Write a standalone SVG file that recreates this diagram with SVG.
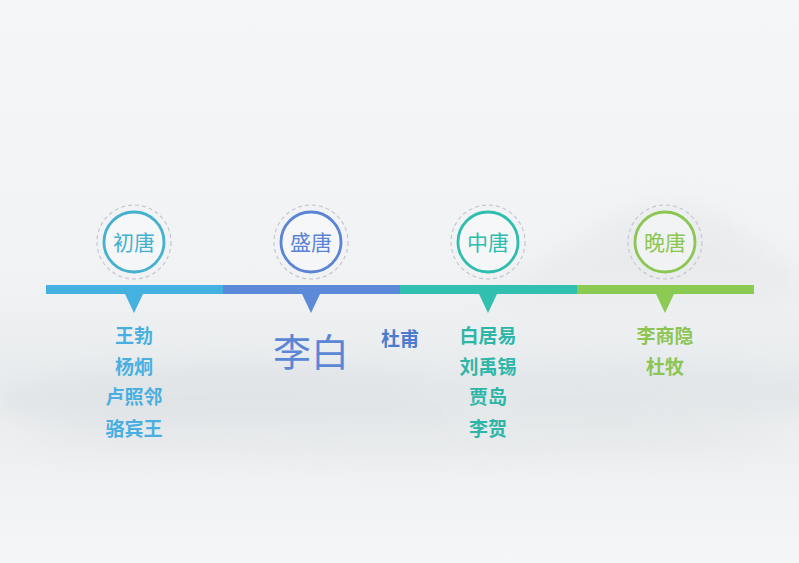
<svg xmlns="http://www.w3.org/2000/svg" width="799" height="563" viewBox="0 0 799 563">
<defs>
<linearGradient id="bg" x1="0" y1="0" x2="0" y2="1">
<stop offset="0" stop-color="#f5f6f7"/>
<stop offset="0.5" stop-color="#f0f2f3"/>
<stop offset="0.66" stop-color="#e9ecee"/>
<stop offset="0.82" stop-color="#eef0f1"/>
<stop offset="1" stop-color="#f5f6f7"/>
</linearGradient>
<filter id="blur" x="-20%" y="-50%" width="140%" height="200%"><feGaussianBlur stdDeviation="12"/></filter>
<style>
.ring{fill:#ffffff;fill-opacity:0.35;stroke-width:2.8}
.dash{fill:none;stroke:#c8c6d6;stroke-width:1.2;stroke-dasharray:4 3}
.era{font-family:"Noto Sans CJK SC","Liberation Sans",sans-serif;font-size:21px;text-anchor:middle}
.name{font-family:"Noto Sans CJK SC","Liberation Sans",sans-serif;font-size:19px;font-weight:bold;text-anchor:middle}
</style>
</defs>
<rect width="799" height="563" fill="url(#bg)"/>
<g filter="url(#blur)" opacity="0.5">
<path d="M480 300 Q560 250 620 215 Q680 185 740 230 Q780 260 799 270 L799 300 Z" fill="#e3e6e8"/>
<ellipse cx="250" cy="400" rx="260" ry="35" fill="#d9dde0"/>
<ellipse cx="620" cy="395" rx="220" ry="30" fill="#dde1e3"/>
<ellipse cx="400" cy="440" rx="380" ry="20" fill="#e2e5e7"/>
</g>
<g id="connectors">
<rect x="46" y="285" width="177" height="9" fill="#45b1e0"/>
<rect x="223" y="285" width="177" height="9" fill="#5c8ad9"/>
<rect x="400" y="285" width="177" height="9" fill="#31bfb0"/>
<rect x="577" y="285" width="177" height="9" fill="#8ccb53"/>
<path d="M125 294 L143 294 L134 313 Z" fill="#45b1e0"/>
<path d="M302 294 L320 294 L311 313 Z" fill="#5c8ad9"/>
<path d="M479 294 L497 294 L488 313 Z" fill="#31bfb0"/>
<path d="M656 294 L674 294 L665 313 Z" fill="#8ccb53"/>
</g>
<g id="early">
<circle cx="134" cy="242" r="37" class="dash"/>
<circle cx="134" cy="242" r="30" class="ring" stroke="#45b1cf"/>
<text x="134" y="249.5" class="era" fill="#45b1cf">初唐</text>
<g class="name" fill="#49afe0">
<text x="134" y="343">王勃</text>
<text x="134" y="374">杨炯</text>
<text x="134" y="404">卢照邻</text>
<text x="134" y="436">骆宾王</text>
</g>
</g>
<g id="high">
<circle cx="311" cy="242" r="37" class="dash"/>
<circle cx="311" cy="242" r="30" class="ring" stroke="#5c84d4"/>
<text x="311" y="249.5" class="era" fill="#5c84d4">盛唐</text>
<text x="311" y="366" font-family="Noto Sans CJK SC,Liberation Sans,sans-serif" font-size="38" text-anchor="middle" fill="#5b86d6">李白</text>
<text x="400" y="346" class="name" fill="#4c7bcf">杜甫</text>
</g>
<g id="mid">
<circle cx="488" cy="242" r="37" class="dash"/>
<circle cx="488" cy="242" r="30" class="ring" stroke="#2ebdae"/>
<text x="488" y="249.5" class="era" fill="#2ebdae">中唐</text>
<g class="name" fill="#2db6a8">
<text x="488" y="343">白居易</text>
<text x="488" y="374">刘禹锡</text>
<text x="488" y="404">贾岛</text>
<text x="488" y="436">李贺</text>
</g>
</g>
<g id="late">
<circle cx="665" cy="242" r="37" class="dash"/>
<circle cx="665" cy="242" r="30" class="ring" stroke="#8cc653"/>
<text x="665" y="249.5" class="era" fill="#8cc653">晚唐</text>
<g class="name" fill="#8cc553">
<text x="665" y="343">李商隐</text>
<text x="665" y="374">杜牧</text>
</g>
</g>
</svg>
